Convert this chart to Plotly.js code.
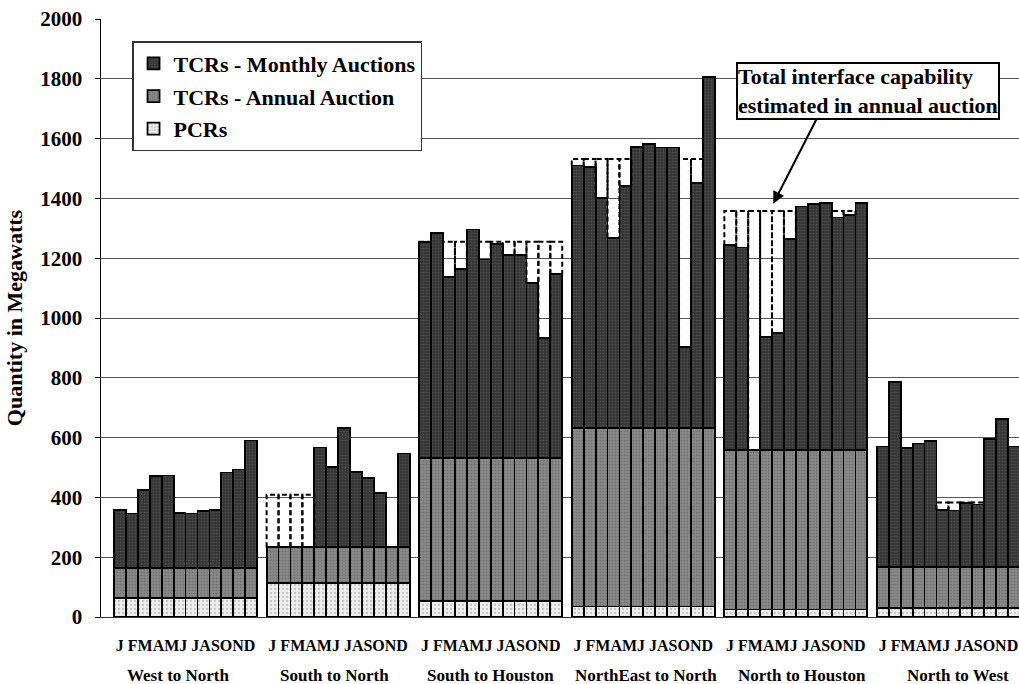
<!DOCTYPE html>
<html><head><meta charset="utf-8">
<script src="https://cdn.plot.ly/plotly-3.0.1.min.js"></script>
<style>html,body{margin:0;padding:0;background:#fff}#chart{width:1019px;height:684px}</style>
</head><body><div id="chart"></div>
<script>
// ---- data ----
const groups = ['West to North', 'South to North', 'South to Houston', 'NorthEast to North', 'North to Houston', 'North to West'];
const monthTickText = 'J FMAMJ JASOND';
const pcr = [63, 113, 53, 35, 25, 30];
const annualAuction = [100, 120, 478, 598, 533, 137];
const monthlyWestToNorth = [195, 183, 261, 308, 310, 186, 183, 192, 196, 320, 330, 427];
const monthlySouthToNorth = [0, 0, 0, 0, 334, 270, 400, 253, 233, 182, 0, 314];
const monthlySouthToHouston = [723, 753, 606, 634, 765, 665, 716, 679, 679, 587, 403, 617];
const monthlyNorthEastToNorth = [877, 873, 769, 635, 809, 940, 949, 937, 937, 270, 819, 1172];
const monthlyNorthToHouston = [685, 678, 0, 379, 391, 705, 815, 822, 826, 778, 786, 826];
const monthlyNorthToWest = [403, 618, 398, 413, 422, 191, 189, 213, 209, 429, 495, 403];
const capability = [null, 409, 1255, 1532, 1358, 383];
const capabilityHiddenMonths = [[], [10], [], [], [], []];

// ---- layout helpers ----
const monthly = [monthlyWestToNorth, monthlySouthToNorth, monthlySouthToHouston,
                 monthlyNorthEastToNorth, monthlyNorthToHouston, monthlyNorthToWest];
const GROUP_PERIOD = 12.8;
const xs = [], yPcr = [], yAnnual = [], yMonthly = [];
const capX = [], capY = [];
groups.forEach((g, gi) => {
  monthly[gi].forEach((v, m) => {
    const c = gi * GROUP_PERIOD + m;
    xs.push(c);
    yPcr.push(pcr[gi]);
    yAnnual.push(annualAuction[gi]);
    yMonthly.push(v);
    const total = pcr[gi] + annualAuction[gi] + v;
    const cap = capability[gi];
    if (cap !== null && cap > total && capabilityHiddenMonths[gi].indexOf(m) < 0) {
      capX.push(c - 0.5, c - 0.5, c + 0.5, c + 0.5, null);
      capY.push(total, cap, cap, total, null);
    }
  });
});
const groupCenters = groups.map((g, gi) => gi * GROUP_PERIOD + 5.5);

const FONT = 'Liberation Serif, Times New Roman, serif';
const outline = {color: '#000', width: 1.8};

const traces = [
  {type: 'bar', name: 'PCRs', x: xs, y: yPcr, width: 1, legendgroup: 'c', legendrank: 3,
   marker: {color: '#eeeeee', line: outline,
            pattern: {shape: '.', fgcolor: '#9a9a9a', size: 4, solidity: 0.25, fillmode: 'overlay'}}},
  {type: 'bar', name: 'TCRs - Annual Auction', x: xs, y: yAnnual, width: 1, legendgroup: 'b', legendrank: 2,
   marker: {color: '#8a8a8a', line: outline,
            pattern: {shape: '.', fgcolor: '#555555', size: 3, solidity: 0.35, fillmode: 'overlay'}}},
  {type: 'bar', name: 'TCRs - Monthly Auctions', x: xs, y: yMonthly, width: 1, legendgroup: 'a', legendrank: 1,
   marker: {color: '#333333', line: outline,
            pattern: {shape: '.', fgcolor: '#6a6a6a', size: 3, solidity: 0.3, fillmode: 'overlay'}}},
  {type: 'scatter', mode: 'lines', x: capX, y: capY, showlegend: false, hoverinfo: 'skip',
   line: {color: '#000', width: 2, dash: '5px,3px'}}
];

const layout = {
  width: 1019, height: 684,
  margin: {l: 101, r: 0, t: 19, b: 67},
  paper_bgcolor: '#fff', plot_bgcolor: '#fff',
  font: {family: FONT, color: '#000', weight: 'bold', size: 20},
  barmode: 'stack', bargap: 0,
  showlegend: true,
  legend: {x: 0.0338, y: 0.963, xanchor: 'left', yanchor: 'top',
           bgcolor: '#fff', bordercolor: '#333', borderwidth: 1.5,
           font: {family: FONT, size: 22, weight: 'bold', color: '#000'},
           traceorder: 'grouped', tracegroupgap: 1},
  xaxis: {range: [-1.594, 75.42], showgrid: false, zeroline: false,
          showline: true, linecolor: '#333', linewidth: 1,
          tickmode: 'array', tickvals: groupCenters, ticktext: groupCenters.map(() => monthTickText),
          ticks: '', tickangle: 0, ticklabelstandoff: 14,
          tickfont: {family: FONT, size: 16, weight: 'bold', color: '#000'}},
  yaxis: {range: [0, 2000], dtick: 200, tick0: 0, showgrid: true, gridcolor: '#555', gridwidth: 1,
          zeroline: false, showline: true, linecolor: '#000', linewidth: 1.5,
          ticks: 'outside', ticklen: 5, tickcolor: '#000', ticklabelstandoff: 8,
          tickfont: {family: FONT, size: 21, weight: 'bold', color: '#000'},
          title: {text: 'Quantity in Megawatts', standoff: 11,
                  font: {family: FONT, size: 22, weight: 'bold', color: '#000'}}},
  annotations: [
    ...groups.map((g, gi) => ({
      text: g, xref: 'x', yref: 'paper', x: 4.87 + 13.09 * gi, y: -0.098,
      xanchor: 'center', yanchor: 'middle', showarrow: false,
      font: {family: FONT, size: 17, weight: 'bold', color: '#000'}})),
    {text: 'Total interface capability<br>estimated in annual auction',
     xref: 'paper', yref: 'paper', x: 0.835, y: 0.8804, xanchor: 'center', yanchor: 'middle',
     showarrow: false, bgcolor: '#fff', bordercolor: '#000', borderwidth: 2, borderpad: 0,
     align: 'left', font: {family: FONT, size: 22, weight: 'bold', color: '#000'}},
    {text: '', xref: 'x', yref: 'y', x: 54.8, y: 1382, ax: 44, ay: -86,
     showarrow: true, arrowhead: 2, arrowsize: 1.2, arrowwidth: 2, arrowcolor: '#000'}
  ]
};

Plotly.newPlot('chart', traces, layout, {displayModeBar: false, staticPlot: true});
</script></body></html>
